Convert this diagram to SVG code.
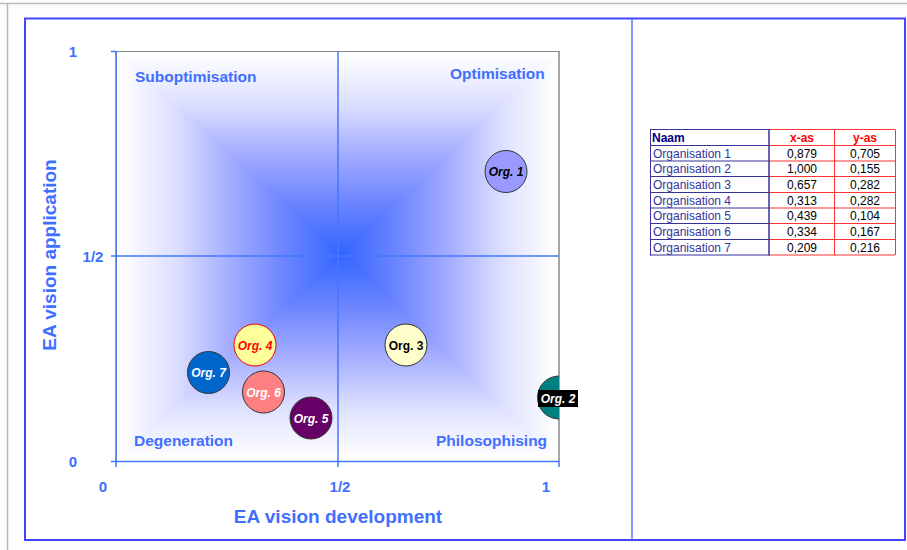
<svg xmlns="http://www.w3.org/2000/svg" width="907" height="550" viewBox="0 0 907 550">
<defs>
<style>
text{font-family:"Liberation Sans",Arial,sans-serif}
.lbl{fill:#3F6FFF;font-size:15.5px;font-weight:bold}
.tick{fill:#3F6FFF;font-size:15px;font-weight:bold}
.ttl{fill:#3F6FFF;font-size:19px;font-weight:bold}
.ax{stroke:#4477FF;stroke-width:1.5;fill:none}
.bub{stroke:#333;stroke-width:1}
.bt{font-size:12px;font-weight:bold;font-style:italic;text-anchor:middle}
.tn{font-size:12px;fill:#333399}
.tv{font-size:12px;fill:#000;text-anchor:middle}
.th{font-size:12px;font-weight:bold;text-anchor:middle;fill:#FF0000}
.nv{stroke:#333399;stroke-width:1}
.rd{stroke:#FF3333;stroke-width:1}
</style>
<linearGradient id="gT" gradientUnits="userSpaceOnUse" x1="0" y1="254" x2="0" y2="55">
<stop offset="0" stop-color="#3366FF"/><stop offset="0.25" stop-color="#6A84FF"/><stop offset="0.5" stop-color="#A3ACFF"/><stop offset="0.75" stop-color="#DCDFFF"/><stop offset="1" stop-color="#FFFFFF"/>
</linearGradient>
<linearGradient id="gB" gradientUnits="userSpaceOnUse" x1="0" y1="254" x2="0" y2="457">
<stop offset="0" stop-color="#3366FF"/><stop offset="0.25" stop-color="#6A84FF"/><stop offset="0.5" stop-color="#A3ACFF"/><stop offset="0.75" stop-color="#DCDFFF"/><stop offset="1" stop-color="#FFFFFF"/>
</linearGradient>
<linearGradient id="gL" gradientUnits="userSpaceOnUse" x1="342" y1="0" x2="120" y2="0">
<stop offset="0" stop-color="#3366FF"/><stop offset="0.25" stop-color="#6A84FF"/><stop offset="0.5" stop-color="#A3ACFF"/><stop offset="0.75" stop-color="#DCDFFF"/><stop offset="1" stop-color="#FFFFFF"/>
</linearGradient>
<linearGradient id="gR" gradientUnits="userSpaceOnUse" x1="342" y1="0" x2="555" y2="0">
<stop offset="0" stop-color="#3366FF"/><stop offset="0.25" stop-color="#6A84FF"/><stop offset="0.5" stop-color="#A3ACFF"/><stop offset="0.75" stop-color="#DCDFFF"/><stop offset="1" stop-color="#FFFFFF"/>
</linearGradient>
<clipPath id="plot"><rect x="116" y="51" width="443" height="410"/></clipPath>
</defs>

<rect x="0" y="0" width="907" height="550" fill="#FDFDFD"/>
<line x1="0" y1="3.5" x2="907" y2="3.5" stroke="#BBBBBB" stroke-width="1.5"/>
<line x1="7.5" y1="3" x2="7.5" y2="550" stroke="#BBBBBB" stroke-width="1.5"/>
<rect x="25" y="18.5" width="880" height="521.5" fill="#FFFFFF" stroke="#4444FF" stroke-width="2"/>
<line x1="632" y1="19" x2="632" y2="540" stroke="#5577FF" stroke-width="1.5"/>

<g id="plot-area">
<rect x="116.5" y="51.5" width="442.5" height="410" fill="#FFFFFF" stroke="#888888" stroke-width="1"/>
<polygon points="120,55 555,55 342,254" fill="url(#gT)" stroke="url(#gT)" stroke-width="1.2"/>
<polygon points="120,457 555,457 342,254" fill="url(#gB)" stroke="url(#gB)" stroke-width="1.2"/>
<polygon points="120,55 120,457 342,254" fill="url(#gL)" stroke="url(#gL)" stroke-width="1.2"/>
<polygon points="555,55 555,457 342,254" fill="url(#gR)" stroke="url(#gR)" stroke-width="1.2"/>
<line class="ax" x1="111" y1="256" x2="559" y2="256"/>
<line class="ax" x1="338" y1="51" x2="338" y2="467"/>
<line class="ax" x1="116" y1="51" x2="116" y2="467"/>
<line class="ax" x1="111" y1="51.5" x2="116" y2="51.5"/>
<line class="ax" x1="111" y1="461.5" x2="559" y2="461.5"/>
<line class="ax" x1="559" y1="461" x2="559" y2="467"/>
<line x1="559" y1="51" x2="559" y2="461" stroke="#888888" stroke-width="1"/>
</g>

<g id="quadrant-labels">
<text class="lbl" x="135" y="82">Suboptimisation</text>
<text class="lbl" x="450" y="79">Optimisation</text>
<text class="lbl" x="134" y="446">Degeneration</text>
<text class="lbl" x="436" y="446">Philosophising</text>
</g>

<g id="axis-labels">
<text class="tick" x="73" y="57" text-anchor="middle">1</text>
<text class="tick" x="93" y="262" text-anchor="middle">1/2</text>
<text class="tick" x="73" y="467" text-anchor="middle">0</text>
<text class="tick" x="103" y="492" text-anchor="middle">0</text>
<text class="tick" x="340" y="492" text-anchor="middle">1/2</text>
<text class="tick" x="546" y="492" text-anchor="middle">1</text>
<text class="ttl" x="338" y="523" text-anchor="middle">EA vision development</text>
<text class="ttl" x="0" y="0" text-anchor="middle" transform="translate(56,255) rotate(-90)">EA vision application</text>
</g>

<g id="org1">
<circle class="bub" cx="506" cy="171.5" r="21" fill="#9999FF"/>
<text class="bt" x="506" y="176" fill="#000">Org. 1</text>
</g>
<g id="org2">
<circle class="bub" cx="559" cy="397.5" r="21.5" fill="#008080" clip-path="url(#plot)"/>
<rect x="538" y="390" width="40" height="17" fill="#000"/>
<text class="bt" x="558" y="403" fill="#FFF">Org. 2</text>
</g>
<g id="org3">
<circle class="bub" cx="406" cy="345" r="21" fill="#FFFFCC"/>
<text x="406" y="349.5" fill="#000" style="font-size:12px;font-weight:bold;text-anchor:middle">Org. 3</text>
</g>
<g id="org4">
<circle cx="255" cy="345" r="21" fill="#FFFF99" stroke="#FF0000" stroke-width="1"/>
<text class="bt" x="255" y="349.5" fill="#FF0000">Org. 4</text>
</g>
<g id="org5">
<circle class="bub" cx="311" cy="418" r="21" fill="#660066"/>
<text class="bt" x="311" y="422.5" fill="#FFF">Org. 5</text>
</g>
<g id="org6">
<circle class="bub" cx="263.5" cy="392" r="21" fill="#FF8080"/>
<text class="bt" x="263.5" y="396.5" fill="#FFF">Org. 6</text>
</g>
<g id="org7">
<circle class="bub" cx="208.5" cy="372.5" r="21" fill="#0066CC"/>
<text class="bt" x="208.5" y="377" fill="#FFF">Org. 7</text>
</g>

<g id="data-table">
<rect x="650.5" y="129.5" width="245" height="125.5" fill="#FFFFFF"/>
<line class="rd" x1="769" y1="129.5" x2="895" y2="129.5"/>
<line class="rd" x1="769" y1="145.5" x2="895" y2="145.5"/>
<line class="rd" x1="769" y1="161" x2="895" y2="161"/>
<line class="rd" x1="769" y1="176.5" x2="895" y2="176.5"/>
<line class="rd" x1="769" y1="192.5" x2="895" y2="192.5"/>
<line class="rd" x1="769" y1="208" x2="895" y2="208"/>
<line class="rd" x1="769" y1="223.5" x2="895" y2="223.5"/>
<line class="rd" x1="769" y1="239.5" x2="895" y2="239.5"/>
<line class="rd" x1="769" y1="255" x2="895" y2="255"/>
<line class="rd" x1="834.5" y1="129.5" x2="834.5" y2="255"/>
<line class="rd" x1="895.5" y1="129.5" x2="895.5" y2="255"/>
<line class="nv" x1="650" y1="129.5" x2="769" y2="129.5"/>
<line class="nv" x1="650" y1="145.5" x2="769" y2="145.5"/>
<line class="nv" x1="650" y1="161" x2="769" y2="161"/>
<line class="nv" x1="650" y1="176.5" x2="769" y2="176.5"/>
<line class="nv" x1="650" y1="192.5" x2="769" y2="192.5"/>
<line class="nv" x1="650" y1="208" x2="769" y2="208"/>
<line class="nv" x1="650" y1="223.5" x2="769" y2="223.5"/>
<line class="nv" x1="650" y1="239.5" x2="769" y2="239.5"/>
<line class="nv" x1="650" y1="255" x2="769" y2="255"/>
<line class="nv" x1="650.5" y1="129" x2="650.5" y2="255.5"/>
<line x1="769" y1="129" x2="769" y2="255.5" stroke="#333399" stroke-width="1.5"/>
<text x="652" y="141.5" style="font-size:12px;font-weight:bold;fill:#000080">Naam</text>
<text class="th" x="802" y="141.5">x-as</text>
<text class="th" x="865" y="141.5">y-as</text>
<text class="tn" x="653" y="157.5">Organisation 1</text>
<text class="tn" x="653" y="173">Organisation 2</text>
<text class="tn" x="653" y="188.5">Organisation 3</text>
<text class="tn" x="653" y="204.5">Organisation 4</text>
<text class="tn" x="653" y="220">Organisation 5</text>
<text class="tn" x="653" y="235.5">Organisation 6</text>
<text class="tn" x="653" y="251.5">Organisation 7</text>
<text class="tv" x="802" y="157.5">0,879</text><text class="tv" x="865" y="157.5">0,705</text>
<text class="tv" x="802" y="173">1,000</text><text class="tv" x="865" y="173">0,155</text>
<text class="tv" x="802" y="188.5">0,657</text><text class="tv" x="865" y="188.5">0,282</text>
<text class="tv" x="802" y="204.5">0,313</text><text class="tv" x="865" y="204.5">0,282</text>
<text class="tv" x="802" y="220">0,439</text><text class="tv" x="865" y="220">0,104</text>
<text class="tv" x="802" y="235.5">0,334</text><text class="tv" x="865" y="235.5">0,167</text>
<text class="tv" x="802" y="251.5">0,209</text><text class="tv" x="865" y="251.5">0,216</text>
</g>
</svg>
